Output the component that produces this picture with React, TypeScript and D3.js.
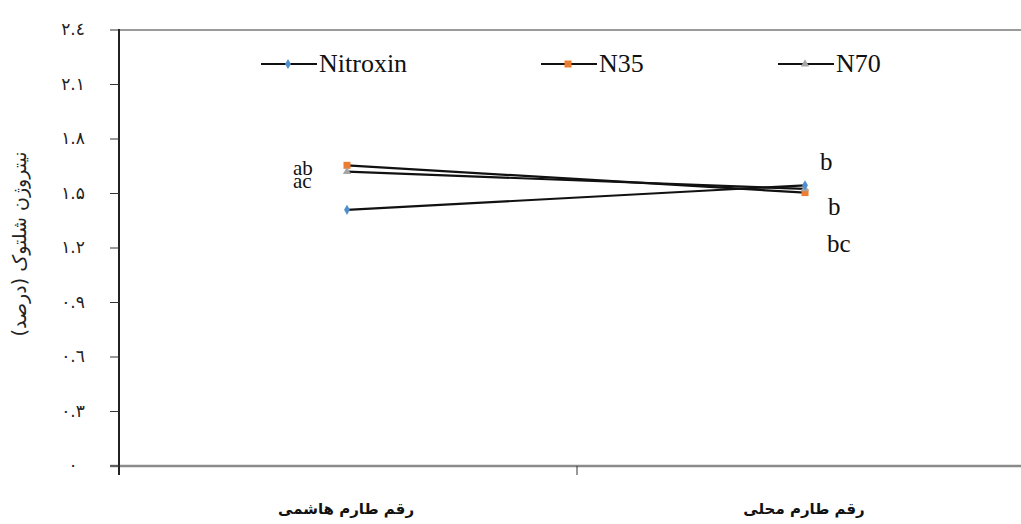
import React, { useRef, useEffect } from 'react';
import * as d3 from 'd3';

const categories = ['رقم طارم هاشمی', 'رقم طارم محلی'];
const seriesNames = ['Nitroxin', 'N35', 'N70'];
const nitroxin = [1.41, 1.545];
const n35 = [1.655, 1.505];
const n70 = [1.62, 1.525];
const yTicks = [0, 0.3, 0.6, 0.9, 1.2, 1.5, 1.8, 2.1, 2.4];
const yTickLabels = ['۰', '۰.۳', '۰.٦', '۰.۹', '۱.۲', '۱.۵', '۱.۸', '۲.۱', '۲.٤'];
const letters = [
  ['ab', 'ac'],
  ['b', 'b', 'bc'],
];

const colors = ['#4f8fd0', '#ed7d31', '#a5a5a5'];

export default function App() {
  const svgRef = useRef<SVGSVGElement>(null);

  useEffect(() => {
    const width = 1021;
    const height = 524;
    const margin = { top: 30, right: -14, bottom: 58, left: 119 };
    const svg = d3.select(svgRef.current);
    svg.selectAll('*').remove();
    svg.attr('width', width).attr('height', height);

    const x = d3.scaleBand()
      .domain(categories)
      .range([margin.left, width - margin.right]);
    const y = d3.scaleLinear()
      .domain([0, 2.4])
      .range([height - margin.bottom, margin.top]);

    const serif = 'Times New Roman, Liberation Serif, serif';
    const farsi = 'DejaVu Sans, sans-serif';

    // top border
    svg.append('line')
      .attr('x1', margin.left).attr('x2', width)
      .attr('y1', y(2.4)).attr('y2', y(2.4))
      .attr('stroke', '#9a9a9a').attr('stroke-width', 2);

    // bottom axis
    svg.append('line')
      .attr('x1', margin.left - 9).attr('x2', width)
      .attr('y1', y(0)).attr('y2', y(0))
      .attr('stroke', '#8a8a8a').attr('stroke-width', 2.5);
    const bTicks = [x.range()[0], x(categories[1])!];
    svg.selectAll('.btick')
      .data(bTicks)
      .join('line')
      .attr('x1', d => d).attr('x2', d => d)
      .attr('y1', y(0)).attr('y2', y(0) + 9)
      .attr('stroke', '#333').attr('stroke-width', 1);

    // left axis
    svg.append('line')
      .attr('x1', margin.left).attr('x2', margin.left)
      .attr('y1', y(2.4) - 1).attr('y2', y(0) + 9)
      .attr('stroke', '#222').attr('stroke-width', 2);
    svg.selectAll('.ytick')
      .data(yTicks)
      .join('line')
      .attr('x1', margin.left - 9).attr('x2', margin.left)
      .attr('y1', d => y(d)).attr('y2', d => y(d))
      .attr('stroke', '#333').attr('stroke-width', 1);
    svg.selectAll('.ylabel')
      .data(yTicks)
      .join('text')
      .attr('x', 73)
      .attr('y', d => y(d) + 5)
      .attr('text-anchor', 'middle')
      .attr('font-family', farsi)
      .attr('font-size', 17)
      .attr('fill', '#222')
      .text((d, i) => yTickLabels[i]);

    // y title
    svg.append('text')
      .attr('transform', `translate(26, ${y(1.2) - 4}) rotate(-90)`)
      .attr('text-anchor', 'middle')
      .attr('font-family', farsi)
      .attr('font-size', 19)
      .attr('fill', '#222')
      .text('نیتروژن شلتوک (درصد)');

    // category labels
    svg.selectAll('.xlabel')
      .data(categories)
      .join('text')
      .attr('x', d => x(d)! + x.bandwidth() / 2 - 2)
      .attr('y', 514)
      .attr('text-anchor', 'middle')
      .attr('font-family', farsi)
      .attr('font-size', 15)
      .attr('font-weight', 'bold')
      .attr('fill', '#111')
      .text(d => d);

    const allSeries = [nitroxin, n35, n70];
    const cx = (i: number) => x(categories[i])! + x.bandwidth() / 2 - 1;
    const line = d3.line<number>()
      .x((d, i) => cx(i))
      .y(d => y(d));

    allSeries.forEach(vals => {
      svg.append('path')
        .attr('d', line(vals))
        .attr('fill', 'none')
        .attr('stroke', '#111')
        .attr('stroke-width', 2.2);
    });

    const drawMarker = (g: any, s: number, px: number, py: number) => {
      if (s === 0) {
        g.append('path')
          .attr('d', d3.symbol(d3.symbolDiamond, 30)())
          .attr('transform', `translate(${px},${py})`)
          .attr('fill', colors[0]);
      } else if (s === 1) {
        g.append('rect')
          .attr('x', px - 3.5).attr('y', py - 3.5)
          .attr('width', 7).attr('height', 7)
          .attr('fill', colors[1]);
      } else {
        g.append('path')
          .attr('d', d3.symbol(d3.symbolTriangle, 30)())
          .attr('transform', `translate(${px},${py})`)
          .attr('fill', colors[2]);
      }
    };

    // markers: N35, N70, then Nitroxin on top
    [1, 2, 0].forEach(s => {
      allSeries[s].forEach((v, i) => drawMarker(svg, s, cx(i), y(v)));
    });

    // significance letters
    const addLetter = (lx: number, ly: number, t: string, size: number) =>
      svg.append('text')
        .attr('x', lx).attr('y', ly)
        .attr('font-family', serif)
        .attr('font-size', size)
        .attr('fill', '#111')
        .text(t);
    const lx0 = cx(0);
    addLetter(lx0 - 54, y(n35[0]) + 10, letters[0][0], 21);
    addLetter(lx0 - 54, y(n70[0]) + 16, letters[0][1], 21);
    const lx1 = cx(1);
    addLetter(lx1 + 15, y(nitroxin[1]) - 15, letters[1][0], 25);
    addLetter(lx1 + 23, y(n35[1]) + 22, letters[1][1], 25);
    addLetter(lx1 + 22, y(n35[1]) + 59, letters[1][2], 25);

    // legend
    const legendX = [261, 541, 778];
    const legend = svg.append('g');
    seriesNames.forEach((name, s) => {
      const lx = legendX[s];
      const ly = 64;
      legend.append('line')
        .attr('x1', lx).attr('x2', lx + 56)
        .attr('y1', ly).attr('y2', ly)
        .attr('stroke', '#111').attr('stroke-width', 2.2);
      drawMarker(legend, s, lx + 27, ly);
      legend.append('text')
        .attr('x', lx + 58)
        .attr('y', 72)
        .attr('font-family', serif)
        .attr('font-size', 26)
        .attr('fill', '#111')
        .text(name);
    });
  }, []);

  return (
    <div style={{ position: 'absolute', left: 0, top: 0, background: '#fff' }}>
      <svg ref={svgRef} />
    </div>
  );
}
